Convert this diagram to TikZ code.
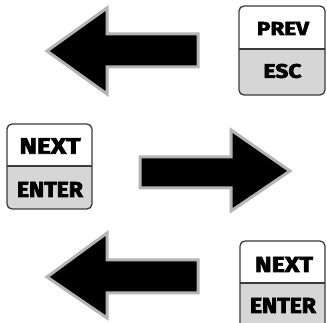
\documentclass[tikz,border=0pt]{standalone}
\usepackage{fontspec}
\setmainfont{Fira Sans}[BoldFeatures={FakeBold=3}]
\tikzset{
  bigarrow/.style={fill=black, draw=arrowgray, line width=3pt, line join=miter},
  keyframe/.style={draw=keyborder, line width=1.3pt, rounded corners=5pt},
  keytop/.style={fill=white},
  keybot/.style={fill=keygray},
  keytext/.style={font=\bfseries, text=black, inner sep=0pt, anchor=center},
}
\definecolor{arrowgray}{HTML}{B4B4B4}
\definecolor{keygray}{HTML}{D6D6D6}
\definecolor{keyborder}{HTML}{3A3A3A}
\newcommand{\keybox}[5]{%
  \fill[keybot, rounded corners=5pt] (#1,#2) rectangle (#3,#4);
  \fill[keytop, rounded corners=5pt] (#1,#2) rectangle (#3,#5+6);
  \fill[keybot] (#1,#5) rectangle (#3,#5+6);
  \draw[keyframe] (#1,#2) rectangle (#3,#4);
  \draw[keyborder, line width=1.1pt] (#1,#5) -- (#3,#5);
}
\newcommand{\keylabel}[3]{\resizebox{#1pt}{#2pt}{\bfseries #3}}
\begin{document}
\begin{tikzpicture}[x=1pt,y=-1pt]
\useasboundingbox (0,0) rectangle (327,323);
\clip (0,0) rectangle (327,323);
% arrows
\draw[bigarrow] (47,51) -- (107,8) -- (107,34) -- (198,34) -- (198,67) -- (107,67) -- (107,94) -- cycle;
\draw[bigarrow] (290,171) -- (231,130) -- (231,157) -- (140,157) -- (140,188) -- (231,188) -- (231,211) -- cycle;
\draw[bigarrow] (47,277) -- (107,233) -- (107,260) -- (198,260) -- (198,293) -- (107,293) -- (107,318) -- cycle;
% key 1
\keybox{239}{6}{325}{95}{49}
\node[keytext] (k1top) at (283,28.5) {\keylabel{52}{13}{PREV}};
\node[keytext] (k1bot) at (282.5,71) {\keylabel{38}{14}{ESC}};
% key 2
\keybox{7}{124}{92}{209}{166}
\node[keytext] (k2top) at (50,146) {\keylabel{61}{15.5}{NEXT}};
\node[keytext] (k2bot) at (50,189.5) {\keylabel{66}{15}{ENTER}};
% key 3
\keybox{240}{241}{325}{332}{283}
\node[keytext] (k3top) at (284,264.5) {\keylabel{58}{15}{NEXT}};
\node[keytext] (k3bot) at (283,305.5) {\keylabel{66}{15}{ENTER}};
\end{tikzpicture}
\end{document}
